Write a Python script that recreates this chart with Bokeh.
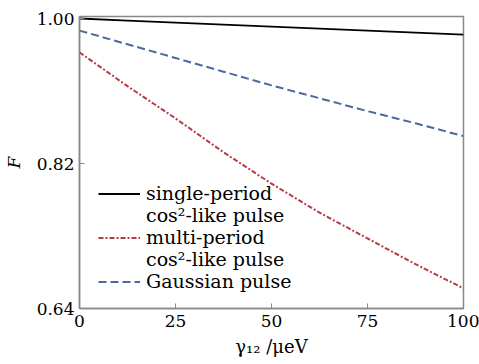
from bokeh.plotting import figure
from bokeh.models import Legend, LegendItem, FixedTicker, Range1d, ColumnDataSource
from bokeh.embed import file_html
from bokeh.resources import INLINE

gamma = [0, 12.5, 25, 37.5, 50, 62.5, 75, 87.5, 100]
single_period = [1.000, 0.9975, 0.995, 0.9925, 0.990, 0.9875, 0.985, 0.9825, 0.980]
multi_period = [0.958, 0.916, 0.876, 0.834, 0.795, 0.759, 0.727, 0.695, 0.665]
gaussian = [0.985, 0.968, 0.951, 0.934, 0.917, 0.901, 0.885, 0.870, 0.854]
x_ticks = [0, 25, 50, 75, 100]
y_ticks = [0.64, 0.82, 1.00]

FONT = "DejaVu Serif"

p = figure(width=479, height=364, output_backend="svg", toolbar_location=None,
           x_range=Range1d(0, 100), y_range=Range1d(0.64, 1.0025),
           min_border_left=76, min_border_right=16, min_border_top=16, min_border_bottom=56)
p.grid.visible = False
p.outline_line_color = "#888888"
p.outline_line_width = 1.5
p.background_fill_color = "white"
p.border_fill_color = "white"

for ax in (p.xaxis[0], p.yaxis[0]):
    ax.axis_line_color = "#888888"
    ax.axis_line_width = 1.5
    ax.major_tick_line_color = "#888888"
    ax.major_tick_in = 5
    ax.major_tick_out = 0
    ax.minor_tick_line_color = None
    ax.major_label_text_font = FONT
    ax.major_label_text_font_size = "17px"
    ax.major_label_text_color = "black"
    ax.axis_label_text_font = FONT
    ax.axis_label_text_color = "black"
p.xaxis.ticker = FixedTicker(ticks=x_ticks)
p.yaxis.ticker = FixedTicker(ticks=y_ticks)
p.yaxis.major_label_overrides = {0.64: "0.64", 0.82: "0.82", 1.0: "1.00"}
p.xaxis.major_label_standoff = 6
p.yaxis.major_label_standoff = 5

p.yaxis.axis_label = "F"
p.yaxis.axis_label_text_font_style = "italic"
p.yaxis.axis_label_text_font_size = "17px"
p.yaxis.axis_label_standoff = 10

p.xaxis.axis_label = "γ₁₂ /μeV"
p.xaxis.axis_label_text_font_style = "normal"
p.xaxis.axis_label_text_font_size = "18px"
p.xaxis.axis_label_standoff = 6

src = ColumnDataSource(dict(g=gamma, s=single_period, m=multi_period, ga=gaussian))
r1 = p.line("g", "s", source=src, line_color="black", line_width=1.8)
r2 = p.line("g", "m", source=src, line_color="#b83a45", line_width=2, line_dash="5 2 2 2")
r3 = p.line("g", "ga", source=src, line_color="#4a6a9e", line_width=2, line_dash="8 4")
dummy = p.line([], [], line_alpha=0)

legend = Legend(items=[
    LegendItem(label="single-period", renderers=[r1]),
    LegendItem(label="cos²-like pulse", renderers=[dummy]),
    LegendItem(label="multi-period", renderers=[r2]),
    LegendItem(label="cos²-like pulse", renderers=[dummy]),
    LegendItem(label="Gaussian pulse", renderers=[r3]),
], location=(19, 16), padding=0, margin=0, spacing=0,
    border_line_alpha=0, background_fill_alpha=0,
    glyph_width=42, glyph_height=21, label_height=21, label_standoff=6,
    label_text_font=FONT, label_text_font_size="19px", label_text_color="black",
    label_text_line_height=1.0)
p.add_layout(legend)

open("out.html", "w").write(file_html(p, INLINE))
